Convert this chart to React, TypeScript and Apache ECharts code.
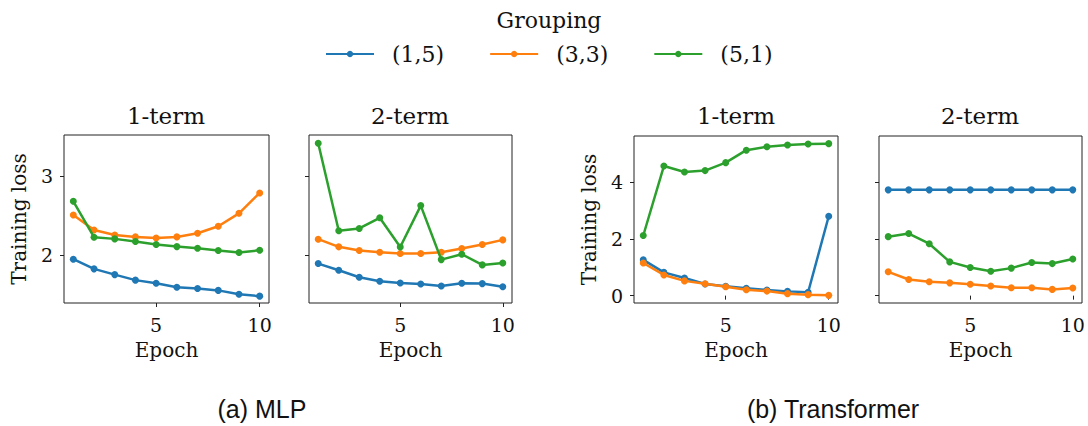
import React, { useEffect, useRef } from "react";
import * as echarts from "echarts";

const epochs = [1, 2, 3, 4, 5, 6, 7, 8, 9, 10];
const groupings = ["(1,5)", "(3,3)", "(5,1)"];
const colors = ["#1f77b4", "#ff7f0e", "#2ca02c"];
const panelTitles = ["1-term", "2-term", "1-term", "2-term"];
const captions = ["(a) MLP", "(b) Transformer"];

// MLP 1-term
const mlp1_15 = [1.945, 1.823, 1.75, 1.68, 1.64, 1.59, 1.574, 1.55, 1.5, 1.477];
const mlp1_33 = [2.506, 2.316, 2.253, 2.228, 2.215, 2.228, 2.274, 2.363, 2.527, 2.785];
const mlp1_51 = [2.68, 2.224, 2.203, 2.169, 2.131, 2.105, 2.084, 2.055, 2.03, 2.059];
// MLP 2-term
const mlp2_15 = [1.89, 1.805, 1.716, 1.665, 1.644, 1.631, 1.606, 1.64, 1.636, 1.597];
const mlp2_33 = [2.199, 2.102, 2.055, 2.034, 2.017, 2.017, 2.034, 2.08, 2.131, 2.19];
const mlp2_51 = [3.415, 2.305, 2.335, 2.47, 2.1, 2.625, 1.94, 2.008, 1.873, 1.898];
// Transformer 1-term
const tr1_15 = [1.26, 0.82, 0.62, 0.41, 0.33, 0.26, 0.2, 0.15, 0.12, 2.8];
const tr1_33 = [1.15, 0.73, 0.52, 0.42, 0.31, 0.21, 0.16, 0.07, 0.035, 0.01];
const tr1_51 = [2.12, 4.57, 4.36, 4.41, 4.69, 5.13, 5.25, 5.31, 5.35, 5.36];
// Transformer 2-term
const tr2_15 = [3.73, 3.73, 3.73, 3.73, 3.73, 3.73, 3.73, 3.73, 3.73, 3.73];
const tr2_33 = [0.84, 0.57, 0.49, 0.45, 0.4, 0.34, 0.28, 0.28, 0.22, 0.27];
const tr2_51 = [2.08, 2.19, 1.83, 1.19, 0.99, 0.86, 0.97, 1.17, 1.13, 1.29];

const xTicks = [5, 10];
const mlpYTicks = [2, 3];
const trYTicks = [0, 2, 4];

const panels = [
  [mlp1_15, mlp1_33, mlp1_51],
  [mlp2_15, mlp2_33, mlp2_51],
  [tr1_15, tr1_33, tr1_51],
  [tr2_15, tr2_33, tr2_51],
];

const SERIF = "DejaVu Serif";

export default function App() {
  const ref = useRef<HTMLDivElement>(null);
  useEffect(() => {
    document.body.style.margin = "0";
    const chart = echarts.init(ref.current!, null, { renderer: "svg" });
    const grids = [
      { left: 64, top: 135, width: 205, height: 168 },
      { left: 309, top: 135, width: 203, height: 168 },
      { left: 634, top: 136, width: 204, height: 167 },
      { left: 879, top: 136, width: 203, height: 167 },
    ];
    const textColor = "#111";
    const xAxes = grids.map((_, i) => ({
      type: "value",
      gridIndex: i,
      min: 0.55,
      max: 10.45,
      axisLine: { show: false },
      splitLine: { show: false },
      axisTick: { show: true, length: 4, lineStyle: { color: "#222" }, customValues: xTicks },
      axisLabel: { customValues: xTicks, fontFamily: SERIF, fontSize: 19, color: textColor, margin: 12 },
      name: "Epoch",
      nameLocation: "middle",
      nameGap: 37,
      nameTextStyle: { fontFamily: SERIF, fontSize: 20, color: textColor },
    }));
    const yAxes = grids.map((_, i) => {
      const mlp = i < 2;
      const ticks = mlp ? mlpYTicks : trYTicks;
      const showLabel = i === 0 || i === 2;
      return {
        type: "value",
        gridIndex: i,
        min: mlp ? 1.39 : -0.26,
        max: mlp ? 3.52 : 5.63,
        axisLine: { show: false },
        splitLine: { show: false },
        axisTick: { show: true, length: 4, lineStyle: { color: "#222" }, customValues: ticks },
        axisLabel: { show: showLabel, customValues: ticks, fontFamily: SERIF, fontSize: 19, color: textColor, margin: 11 },
        name: showLabel ? "Training loss" : "",
        nameLocation: "middle",
        nameGap: 35,
        nameTextStyle: { fontFamily: SERIF, fontSize: 20, color: textColor },
      };
    });
    const series: any[] = [];
    panels.forEach((p, gi) => {
      p.forEach((vals, si) => {
        series.push({
          type: "line",
          name: groupings[si],
          xAxisIndex: gi,
          yAxisIndex: gi,
          data: epochs.map((e, k) => [e, vals[k]]),
          symbol: "circle",
          symbolSize: 7,
          showSymbol: true,
          lineStyle: { width: 2.5, color: colors[si] },
          itemStyle: { color: colors[si] },
          z: 2 + si,
        });
      });
    });
    const graphics: any[] = [];
    const titleX = [166, 410, 736, 980];
    panelTitles.forEach((t, i) => {
      graphics.push({
        type: "text",
        x: titleX[i],
        y: 116,
        style: { text: t, font: `23px '${SERIF}'`, fill: textColor, textAlign: "center", textVerticalAlign: "middle" },
      });
    });
    graphics.push({
      type: "text",
      x: 549,
      y: 20,
      style: { text: "Grouping", font: `22px '${SERIF}'`, fill: textColor, textAlign: "center", textVerticalAlign: "middle" },
    });
    const capX = [262, 833];
    captions.forEach((c, i) => {
      graphics.push({
        type: "text",
        x: capX[i],
        y: 409,
        style: { text: c, font: `25px 'Liberation Sans'`, fill: textColor, textAlign: "center", textVerticalAlign: "middle" },
      });
    });
    chart.setOption({
      animation: false,
      backgroundColor: "#fff",
      grid: grids.map((g) => ({ ...g, show: true, borderColor: "#222", borderWidth: 1, backgroundColor: "transparent" })),
      xAxis: xAxes,
      yAxis: yAxes,
      legend: {
        data: groupings,
        left: 320,
        top: 38,
        itemWidth: 48,
        itemHeight: 8,
        itemGap: 45,
        selectedMode: false,
        textStyle: { fontFamily: SERIF, fontSize: 22, color: textColor, padding: [0, 0, 0, 13] },
      },
      series,
      graphic: graphics,
    });
    return () => chart.dispose();
  }, []);
  return <div ref={ref} style={{ width: 1088, height: 426 }} />;
}
